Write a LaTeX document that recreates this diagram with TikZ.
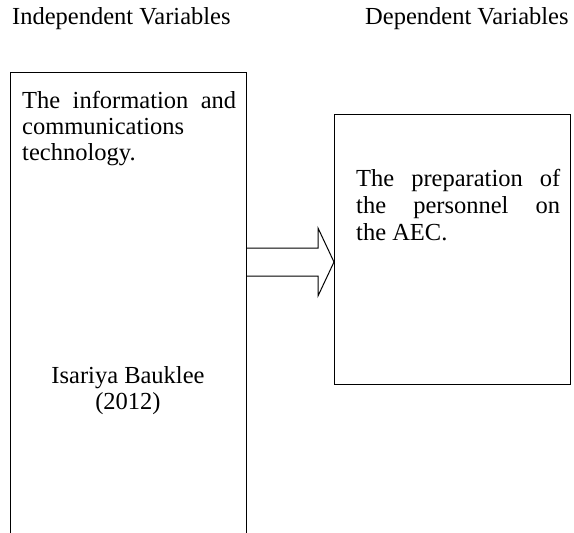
\documentclass[tikz,border=0pt]{standalone}
\usepackage{fontspec}
\setmainfont{Liberation Serif}
\begin{document}
\begin{tikzpicture}[x=1pt,y=-1pt,
  box/.style={draw,line width=1pt,rectangle,inner sep=0pt},
  txt/.style={font=\fontsize{24.5}{27}\selectfont,inner sep=0pt,anchor=base west},
  ctr/.style={font=\fontsize{24.5}{27}\selectfont,inner sep=0pt,anchor=base}]
\useasboundingbox (0,0) rectangle (574,533);
% headers
\node[txt] (h1) at (12,24) {Independent Variables};
\node[txt] (h2) at (365,24) {Dependent Variables};
% boxes
\node[box,anchor=north west,minimum width=236pt,minimum height=480pt] (L) at (10,72) {};
\node[box,anchor=north west,minimum width=236pt,minimum height=270pt] (R) at (334,114) {};
% left texts
\node[txt] (l1) at (22,108) {\makebox[214pt][s]{The information and}};
\node[txt] (l2) at (22,134) {communications};
\node[txt] (l3) at (22,160) {technology.};
\node[ctr] (a1) at (128,383) {Isariya Bauklee};
\node[ctr] (a2) at (128,409) {(2012)};
% right texts
\node[txt] (r1) at (356,186) {\makebox[204pt][s]{The preparation of}};
\node[txt] (r2) at (356,213) {\makebox[204pt][s]{the personnel on}};
\node[txt] (r3) at (356,240) {the AEC.};
% block arrow
\draw[line width=1pt,line join=miter]
  (L.east |- 0,248) -- (318,248) -- (318,228) -- (R.west |- 0,262) -- (318,296) -- (318,276) -- (L.east |- 0,276);
\end{tikzpicture}
\end{document}
